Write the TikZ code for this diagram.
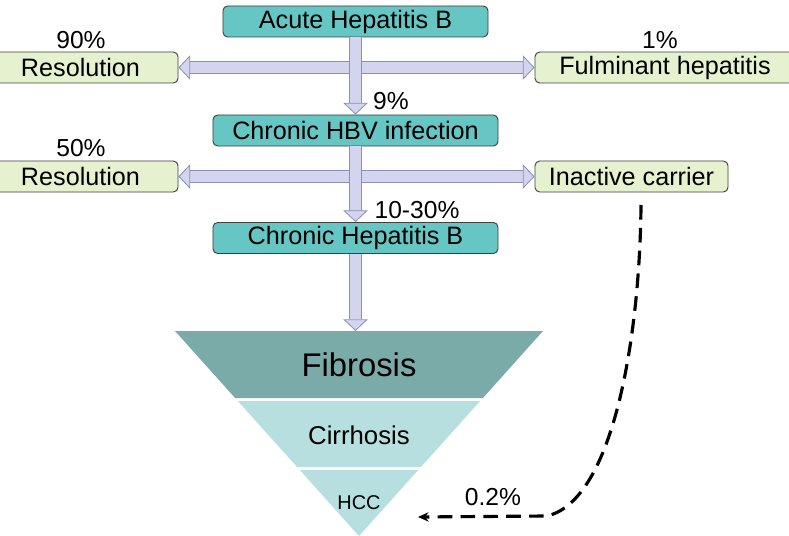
\documentclass[tikz,border=0pt]{standalone}
\usepackage{fontspec}
\setmainfont{Liberation Sans}
\usepackage{tikz}
\usetikzlibrary{arrows.meta,positioning,calc}
\definecolor{hepteal}{HTML}{66C6C4}
\definecolor{outgreen}{HTML}{E6F2CF}
\definecolor{arrowfill}{HTML}{D3D5EE}
\definecolor{arrowline}{HTML}{8C8FB8}
\definecolor{fibdark}{HTML}{7BABA9}
\definecolor{cirlight}{HTML}{B7DFDF}
\tikzset{
  fat/.tip={Triangle[length=10pt,width=21pt,fill=arrowfill,color=arrowline,line width=0.7pt]},
  hepbox/.style={rectangle,rounded corners=4pt,draw=black!75,line width=0.8pt,fill=hepteal,
    minimum height=0.93cm,align=center,
    font=\fontsize{21.5}{24}\selectfont,inner sep=0pt},
  outbox/.style={rectangle,rounded corners=4pt,draw=black!75,line width=0.8pt,fill=outgreen,
    minimum height=0.93cm,align=center,
    font=\fontsize{21.5}{24}\selectfont,inner sep=0pt},
  pct/.style={font=\fontsize{21}{24}\selectfont,inner sep=0pt},
  blockarrow/.style={double=arrowfill,double distance=9pt,draw=arrowline,line width=0.7pt,-fat},
  blockboth/.style={double=arrowfill,double distance=9pt,draw=arrowline,line width=0.7pt,fat-fat},
  dasharrow/.style={-{Stealth[length=9pt,width=8pt]},line width=2.7pt,dash pattern=on 12.5pt off 7pt},
}

\begin{document}
\begin{tikzpicture}[x=0.03cm,y=-0.03cm]
  \useasboundingbox (0,0) rectangle (789,536);

  % stages
  \node[hepbox, minimum width=7.95cm] (acute) at (355.5,21.5) {Acute Hepatitis B};
  \node[hepbox, minimum width=8.55cm] (hbv) at (355.5,130.5) {Chronic HBV infection};
  \node[hepbox, minimum width=8.55cm] (chb) at (355.5,238) {Chronic Hepatitis B};

  % outcomes
  \node[outbox, minimum width=5.85cm] (res1) at (80.5,67.5) {Resolution};
  \node[outbox, minimum width=7.8cm] (fulm) at (665,67.5) {Fulminant hepatitis};
  \node[outbox, minimum width=5.85cm] (res2) at (80.5,176.5) {Resolution};
  \node[outbox, minimum width=5.79cm] (carrier) at (631.5,176.5) {Inactive carrier};

  % rates
  \node[pct] (p90) at (81,40) {90\%};
  \node[pct] (p1) at (660,40) {1\%};
  \node[pct] (p9) at (391,101) {9\%};
  \node[pct] (p50) at (81,148) {50\%};
  \node[pct] (p1030) at (417,210) {10-30\%};
  \node[pct] (p02) at (493,497) {0.2\%};

  % pyramid
  \fill[fibdark] (175,331) -- (543,331) -- (482.9,398) -- (235.1,398) -- cycle;
  \fill[cirlight] (237.8,401) -- (480.2,401) -- (420.9,467) -- (297.1,467) -- cycle;
  \fill[cirlight] (299.8,470) -- (418.2,470) -- (359,536) -- cycle;
  \node[font=\fontsize{28}{32}\selectfont] (fib) at (359,365) {Fibrosis};
  \node[font=\fontsize{22}{26}\selectfont] (cir) at (359,435) {Cirrhosis};
  \node[font=\fontsize{17}{20}\selectfont] (hcc) at (359,503) {HCC};
  \coordinate (fibtop) at (355.5,331);

  % arrows
  \draw[blockboth] (res1) -- (fulm);
  \draw[blockarrow] (acute) -- (hbv);
  \draw[blockboth] (res2) -- (carrier);
  \draw[blockarrow] (hbv) -- (chb);
  \draw[blockarrow] (chb) -- (fibtop);

  \coordinate (dstart) at (641,205);
  \coordinate (dbend) at (547,516);
  \coordinate (dend) at (418,517);
  \draw[dasharrow] (dstart) .. controls (640,330) and (615,500) .. (dbend) -- (dend);
\end{tikzpicture}
\end{document}
